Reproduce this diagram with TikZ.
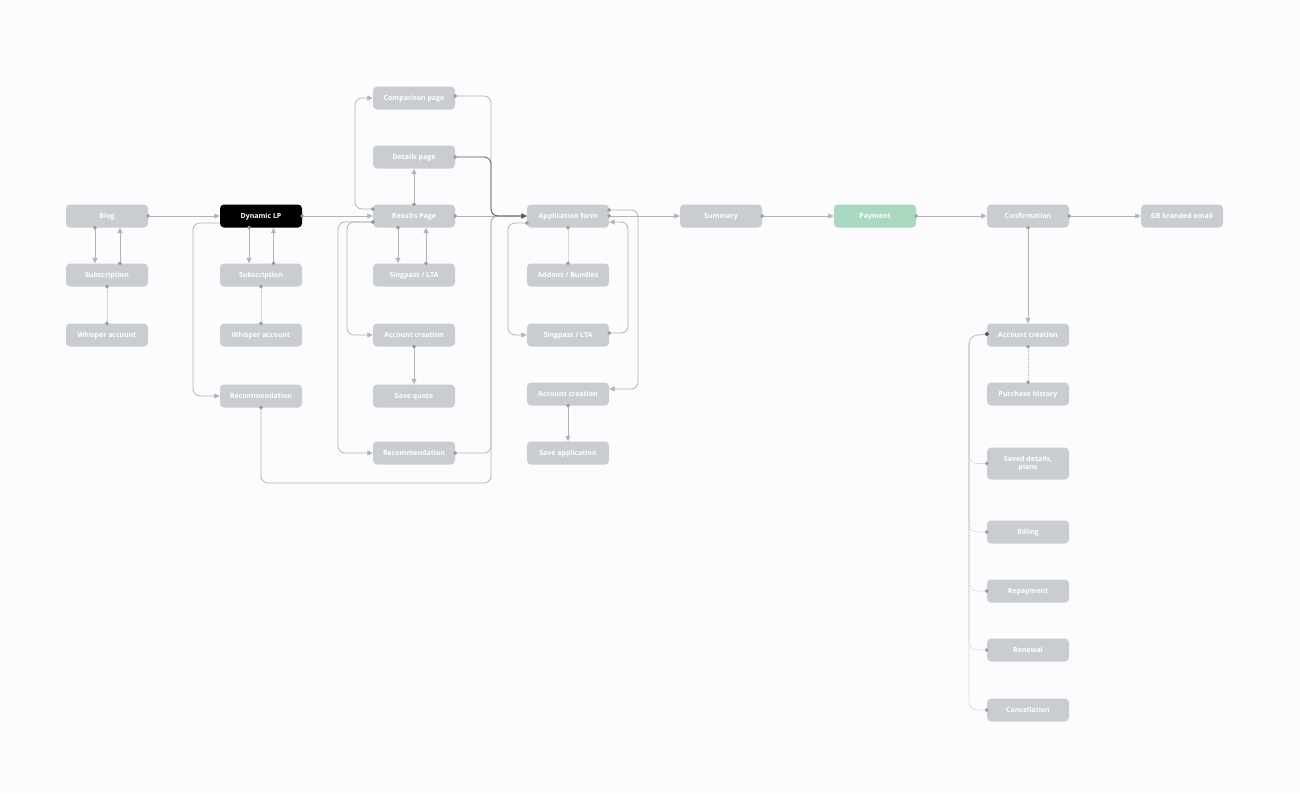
\documentclass[tikz,border=0pt]{standalone}
\usepackage{fontspec}
\setmainfont{Open Sans}
\usetikzlibrary{arrows.meta}
\definecolor{bg}{HTML}{FCFBFD}
\definecolor{nodegrey}{HTML}{CACDCF}
\definecolor{linegrey}{HTML}{B4B4B6}
\definecolor{dotline}{HTML}{C2C2C4}
\definecolor{dotgrey}{HTML}{9A9A9C}
\definecolor{darkline}{HTML}{5A5A5C}
\definecolor{paygreen}{HTML}{A8D8BF}
\tikzset{
  box/.style={rectangle, rounded corners=4pt, fill=nodegrey, minimum width=82pt, minimum height=23pt,
    inner sep=1pt, text=white, align=center, text height=5.2pt, text depth=0pt,
    font=\fontsize{7}{8.5}\selectfont\bfseries},
  twoline/.style={minimum height=32pt, text height=, text depth=, yshift=-0.5pt},
  base/.style={draw=linegrey, line width=0.8pt, rounded corners=7pt},
  flow/.style={base, shorten <=-1.8pt,
    {Circle[length=3.6pt,fill=dotgrey,color=dotgrey]}-{Triangle[length=5.5pt,width=5pt,fill=linegrey,color=linegrey]}},
  flownodot/.style={base, -{Triangle[length=5.5pt,width=5pt,fill=linegrey,color=linegrey]}},
  dflow/.style={base, draw=darkline, shorten <=-1.8pt,
    {Circle[length=3.6pt,fill=dotgrey,color=dotgrey]}-{Triangle[length=5.5pt,width=5pt,fill=darkline,color=darkline]}},
  dotlink/.style={draw=dotline, line width=0.6pt, dash pattern=on 0.8pt off 0.8pt, shorten <=-1.8pt, shorten >=-1.8pt,
    {Circle[length=3.6pt,fill=dotgrey,color=dotgrey]}-{Circle[length=3.6pt,fill=dotgrey,color=dotgrey]}},
  dotlinkdark/.style={draw=dotline, line width=0.6pt, dash pattern=on 0.8pt off 0.8pt, rounded corners=8pt, shorten <=-1.8pt, shorten >=-1.8pt,
    {Circle[length=3.6pt,fill=darkline,color=darkline]}-{Circle[length=3.6pt,fill=dotgrey,color=dotgrey]}},
}
\begin{document}
\begin{tikzpicture}[x=1pt,y=-1pt]
\fill[bg] (0,0) rectangle (1300,793);
\useasboundingbox (0,0) rectangle (1300,793);

% column 1
\node[box] (blog) at (107,216) {Blog};
\node[box] (sub1) at (107,275) {Subscription};
\node[box] (wa1) at (107,335) {Whisper account};
% column 2
\node[box, fill=black] (dlp) at (261,216) {Dynamic LP};
\node[box] (sub2) at (261,275) {Subscription};
\node[box] (wa2) at (261,335) {Whisper account};
\node[box] (rec1) at (261,396) {Recommendation};
% column 3
\node[box] (cmp) at (414,98) {Comparison page};
\node[box] (det) at (414,157) {Details page};
\node[box] (res) at (414,216) {Results Page};
\node[box] (sp1) at (414,275) {Singpass / LTA};
\node[box] (acc1) at (414,335) {Account creation};
\node[box] (sq) at (414,396) {Save quote};
\node[box] (rec2) at (414,453) {Recommendation};
% column 4
\node[box] (app) at (568,216) {Application form};
\node[box] (add) at (568,275) {Addons / Bundles};
\node[box] (sp2) at (568,335) {Singpass / LTA};
\node[box] (acc2) at (568,394) {Account creation};
\node[box] (sa) at (568,453) {Save application};
% main line
\node[box] (sum) at (721,216) {Summary};
\node[box, fill=paygreen] (pay) at (875,216) {Payment};
\node[box] (conf) at (1028,216) {Confirmation};
\node[box] (gb) at (1182,216) {GB branded email};
% account column
\node[box] (acc3) at (1028,335) {Account creation};
\node[box] (ph) at (1028,394) {Purchase history};
\node[box, twoline] (sdp) at (1028,463) {Saved details,\\plans};
\node[box] (bil) at (1028,532) {Billing};
\node[box] (rep) at (1028,591) {Repayment};
\node[box] (ren) at (1028,650) {Renewal};
\node[box] (can) at (1028,710) {Cancellation};

% column 1 links
\draw[flow] (blog.east) -- (dlp.west);
\draw[flow] ([xshift=-12pt]blog.south) -- ([xshift=-12pt]sub1.north);
\draw[flow] ([xshift=13pt]sub1.north) -- ([xshift=13pt]blog.south);
\draw[dotlink] (sub1.south) -- (wa1.north);

% column 2 links
\draw[flow] ([xshift=-12pt]dlp.south) -- ([xshift=-12pt]sub2.north);
\draw[flow] ([xshift=12.5pt]sub2.north) -- ([xshift=12.5pt]dlp.south);
\draw[dotlink] (sub2.south) -- (wa2.north);
\draw[flownodot] ([yshift=-7pt]dlp.west) -| (193,396) -- (rec1.west);
\draw[flow] (dlp.east) -- (res.west);
\draw[flow] (rec1.south) |- (491,483) -- (491,216) -- (app.west);

% column 3 links
\draw[flow] ([yshift=7pt]res.west) -| (355,98) -- (cmp.west);
\draw[flow] (res.north) -- (det.south);
\draw[flow] ([yshift=-6pt]res.west) -| (347,335) -- (acc1.west);
\draw[flow] ([yshift=-6pt]res.west) -| (338,453) -- (rec2.west);
\draw[flow] ([xshift=-16pt]res.south) -- ([xshift=-16pt]sp1.north);
\draw[flow] ([xshift=12pt]sp1.north) -- ([xshift=12pt]res.south);
\draw[flow] (acc1.south) -- (sq.north);
\draw[flow] (rec2.east) -| (491,216) -- (app.west);
\draw[flow] ([yshift=2pt]cmp.east) -| (491,216) -- (app.west);
\draw[flow] (res.east) -- (app.west);
\draw[dflow] (det.east) -| (491,216) -- (app.west);

% column 4 links
\draw[dotlink] (app.south) -- (add.north);
\draw[flow] ([yshift=-7pt]app.west) -| (508,335) -- (sp2.west);
\draw[flow] ([yshift=2pt]sp2.east) -| (628,222) -- ([yshift=-6pt]app.east);
\draw[flow] ([yshift=6pt]app.east) -| (638,389) -- ([yshift=5pt]acc2.east);
\draw[flow] (acc2.south) -- (sa.north);

% main line
\draw[flow] (app.east) -- (sum.west);
\draw[flow] (sum.east) -- (pay.west);
\draw[flow] (pay.east) -- (conf.west);
\draw[flow] (conf.east) -- (gb.west);
\draw[flow] (conf.south) -- (acc3.north);

% account column
\draw[dotlink] (acc3.south) -- (ph.north);
\foreach \n in {sdp,bil,rep,ren,can}{
  \draw[dotlinkdark] ([yshift=1pt]acc3.west) -- (969,336) |- (\n.west);
}
\end{tikzpicture}
\end{document}
